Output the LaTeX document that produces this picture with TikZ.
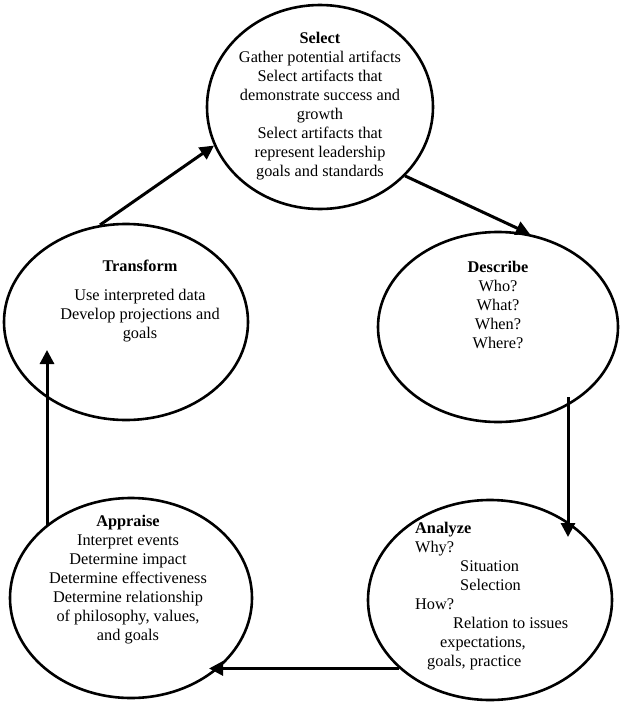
\documentclass[tikz,border=0pt]{standalone}
\usepackage{fontspec}
\setmainfont{Liberation Serif}
\usetikzlibrary{shapes.geometric,arrows.meta}
\begin{document}
\begin{tikzpicture}[x=1pt,y=-1pt,
  el/.style={draw,ellipse,line width=2.6pt,inner sep=0pt},
  txt/.style={font=\fontsize{16.3}{19}\selectfont,align=center,inner sep=0pt},
  arr/.style={line width=3pt,-{Triangle[length=14pt,width=14pt]}}]
\useasboundingbox (0,0) rectangle (620,707);
\node[el,minimum width=226pt,minimum height=204pt] (s) at (320,107) {};
\node[el,minimum width=240pt,minimum height=190pt] (d) at (498,327) {};
\node[el,minimum width=244pt,minimum height=200pt] (an) at (490,600) {};
\node[el,minimum width=242pt,minimum height=200pt] (ap) at (131,598) {};
\node[el,minimum width=244pt,minimum height=196pt] (t) at (126,322) {};
\node[txt] (st) at (320,106) {\textbf{Select}\\Gather potential artifacts\\Select artifacts that\\demonstrate success and\\growth\\Select artifacts that\\represent leadership\\goals and standards};
\node[txt] (dt) at (498,305) {\textbf{Describe}\\Who?\\What?\\When?\\Where?};
\node[txt] (tt) at (140,266) {\textbf{Transform}};
\node[txt] (tt2) at (140,316) {Use interpreted data\\Develop projections and\\goals};
\node[txt] (apt) at (128,580) {\textbf{Appraise}\\Interpret events\\Determine impact\\Determine effectiveness\\Determine relationship\\of philosophy, values,\\and goals};
\node[txt,align=left,anchor=north west] (ant) at (415,522) {\textbf{Analyze}\\Why?\\\hspace{45pt}Situation\\\hspace{45pt}Selection\\How?\\\hspace{38pt}Relation to issues\\\hspace{25pt}expectations,\\\hspace{12pt}goals, practice};
\draw[arr] (t.105) -- (s.200);
\draw[arr] (s.-39) -- (d.71);
\draw[arr] (568,397) -- (568,537);
\draw[arr] (an.217) -- (ap.-45 |- an.217);
\draw[arr] (47,525) -- (47,350);
\end{tikzpicture}
\end{document}
